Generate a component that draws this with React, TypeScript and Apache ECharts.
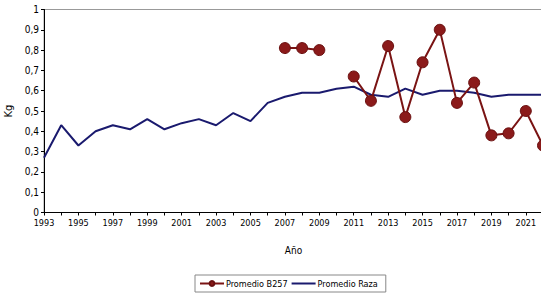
import React, { useEffect, useRef } from "react";
import * as echarts from "echarts";

const years = [
  "1993","1994","1995","1996","1997","1998","1999","2000","2001","2002",
  "2003","2004","2005","2006","2007","2008","2009","2010","2011","2012",
  "2013","2014","2015","2016","2017","2018","2019","2020","2021","2022",
];
const promedioRaza = [
  0.27, 0.43, 0.33, 0.40, 0.43, 0.41, 0.46, 0.41, 0.44, 0.46,
  0.43, 0.49, 0.45, 0.54, 0.57, 0.59, 0.59, 0.61, 0.62, 0.58,
  0.57, 0.61, 0.58, 0.60, 0.60, 0.59, 0.57, 0.58, 0.58, 0.58,
];
const promedioB257 = [
  null, null, null, null, null, null, null, null, null, null,
  null, null, null, null, 0.81, 0.81, 0.80, null, 0.67, 0.55,
  0.82, 0.47, 0.74, 0.90, 0.54, 0.64, 0.38, 0.39, 0.50, 0.33,
];

const FONT = "'Liberation Sans Narrow', 'DejaVu Sans Condensed', 'Liberation Sans', Arial, sans-serif";

export default function App() {
  const ref = useRef<HTMLDivElement>(null);
  useEffect(() => {
    if (!ref.current) return;
    const chart = echarts.init(ref.current, null, { renderer: "svg" });
    chart.setOption({
      animation: false,
      backgroundColor: "#ffffff",
      textStyle: { fontFamily: FONT },
      grid: {
        left: 44,
        right: -2,
        top: 9.5,
        bottom: 303 - 212.5,
        outerBoundsMode: "none",
        containLabel: false,
        show: true,
        borderColor: "#999999",
        borderWidth: 1,
      },
      legend: {
        left: 195,
        top: 275,
        orient: "horizontal",
        itemGap: 3,
        itemWidth: 24,
        itemHeight: 6,
        padding: [4, 8, 4, 4],
        borderColor: "#888888",
        borderWidth: 1,
        textStyle: { fontFamily: FONT, fontSize: 9, color: "#000", padding: [0, 0, 0, -3] },
        data: [
          { name: "Promedio B257" },
          { name: "Promedio Raza", itemStyle: { opacity: 0 } },
        ],
      },
      xAxis: {
        type: "category",
        data: years,
        boundaryGap: false,
        name: "Año",
        nameLocation: "middle",
        nameGap: 33,
        nameTextStyle: { fontFamily: FONT, fontSize: 10, color: "#000" },
        axisLine: { lineStyle: { color: "#000", width: 1 } },
        axisTick: { interval: 0, length: 3, lineStyle: { color: "#000" } },
        axisLabel: {
          interval: 1,
          fontFamily: FONT,
          fontSize: 9,
          color: "#000",
          margin: 6,
        },
        splitLine: { show: false },
      },
      yAxis: {
        type: "value",
        min: 0,
        max: 1,
        interval: 0.1,
        name: "Kg",
        nameLocation: "middle",
        nameGap: 30,
        nameRotate: 90,
        nameTextStyle: { fontFamily: FONT, fontSize: 11, color: "#000" },
        axisLine: { show: true, lineStyle: { color: "#000", width: 1 } },
        axisTick: { show: true, length: 3, lineStyle: { color: "#000" } },
        axisLabel: {
          fontFamily: FONT,
          fontSize: 10,
          color: "#000",
          margin: 5,
          formatter: (v: number) => String(Math.round(v * 10) / 10).replace(".", ","),
        },
        splitLine: { show: false },
      },
      series: [
        {
          name: "Promedio B257",
          type: "line",
          data: promedioB257,
          connectNulls: false,
          symbol: "circle",
          symbolSize: 11,
          showAllSymbol: true,
          z: 3,
          lineStyle: { color: "#7a1414", width: 2 },
          itemStyle: { color: "#8b1a1a", borderColor: "#6a1010", borderWidth: 1 },
        },
        {
          name: "Promedio Raza",
          type: "line",
          data: promedioRaza,
          symbol: "none",
          z: 2,
          lineStyle: { color: "#1a1a6e", width: 2 },
          itemStyle: { color: "#1a1a6e" },
        },
      ],
    });
    return () => chart.dispose();
  }, []);
  return (
    <div
      ref={ref}
      style={{ position: "absolute", left: 0, top: 0, width: 541, height: 303 }}
    />
  );
}
